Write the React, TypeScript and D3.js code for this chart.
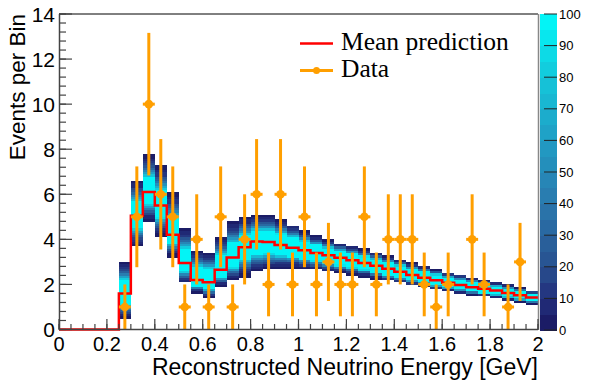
import React from "react";
import * as d3 from "d3";

// bin lower edges [GeV], 0.05 wide
const binStart = d3.range(40).map((i) => i * 0.05);
const binWidth = 0.05;

const meanPrediction = [
  0, 0, 0, 0, 0, 1.6, 5.05, 6.1, 5.5, 4.2,
  2.95, 2.2, 2.1, 2.65, 3.2, 3.65, 3.9, 3.88, 3.75, 3.63,
  3.52, 3.4, 3.29, 3.18, 3.07, 2.95, 2.83, 2.7, 2.56, 2.42,
  2.3, 2.18, 2.07, 1.97, 1.88, 1.81, 1.73, 1.62, 1.52, 1.42,
];

const dataCounts = [
  0, 0, 0, 0, 0, 1, 5, 10, 6, 5,
  1, 4, 1, 5, 1, 4, 6, 2, 6, 2,
  5, 2, 3, 2, 2, 5, 2, 4, 4, 4,
  2, 1, 2, 0, 4, 2, 0, 1, 3, 0,
];

// outer extent of the prediction band per bin
const bandLow = [
  null, null, null, null, null, 0.5, 3.7, 4.85, 4.15, 3.3,
  2.1, 1.65, 1.45, 1.95, 2.2, 2.4, 2.6, 2.7, 2.75, 2.8,
  2.75, 2.7, 2.62, 2.55, 2.48, 2.4, 2.3, 2.2, 2.1, 2.0,
  1.92, 1.82, 1.73, 1.65, 1.57, 1.52, 1.45, 1.35, 1.27, 1.2,
];
const bandHigh = [
  null, null, null, null, null, 3.0, 6.6, 7.75, 7.25, 6.05,
  4.45, 3.45, 3.4, 4.1, 4.75, 4.95, 5.05, 5.05, 4.85, 4.6,
  4.35, 4.12, 3.95, 3.8, 3.66, 3.52, 3.38, 3.22, 3.07, 2.92,
  2.78, 2.64, 2.5, 2.38, 2.26, 2.16, 2.07, 1.95, 1.82, 1.68,
];

const colorStops = [0, 10, 20, 40, 60, 80, 100];
const colorRange = ["#18165f", "#232f7c", "#28508f", "#2a78ad", "#219dc4", "#14c6da", "#00fafa"];
const colorTicks = [0, 10, 20, 30, 40, 50, 60, 70, 80, 90, 100];

const legendItems = ["Mean prediction", "Data"];

const W = 598;
const H = 382;
const sans = "'Liberation Sans', Arial, Helvetica, sans-serif";
const serif = "'Liberation Serif', 'Times New Roman', serif";
const orange = "#ff9f00";

export default function App() {
  const xScale = d3.scaleLinear().domain([0, 2]).range([59, 538]);
  const yScale = d3.scaleLinear().domain([0, 14]).range([329.5, 14]);
  const zScale = d3.scaleLinear().domain([0, 100]).range([330, 14]);
  const interp = d3.scaleLinear<string>().domain(colorStops).range(colorRange);
  const palette = (v: number) => {
    const level = Math.min(19, Math.floor(v / 5));
    return interp((level + 0.5) * 5);
  };

  // band cells (2D histogram style, 0.1 tall cells)
  const cells: { x0: number; x1: number; y0: number; y1: number; c: string }[] = [];
  binStart.forEach((b, i) => {
    const lo = bandLow[i];
    const hi = bandHigh[i];
    if (lo == null || hi == null) return;
    const m = meanPrediction[i];
    const sl = (m - lo) / 2.9;
    const su = (hi - m) / 2.9;
    const peak = 320 / Math.sqrt(hi - lo);
    for (let k = Math.floor(lo / 0.1); k < Math.ceil(hi / 0.1); k++) {
      const y0 = k * 0.1;
      const yc = y0 + 0.05;
      const z = yc < m ? (m - yc) / sl : (yc - m) / su;
      const v = Math.min(100, peak * Math.exp(-0.5 * z * z));
      cells.push({ x0: b, x1: b + binWidth, y0, y1: y0 + 0.1, c: palette(v) });
    }
  });

  // step line for mean prediction
  const stepPts: [number, number][] = [];
  binStart.forEach((b, i) => {
    stepPts.push([b, meanPrediction[i]]);
    stepPts.push([b + binWidth, meanPrediction[i]]);
  });
  const stepLine = d3
    .line<[number, number]>()
    .x((d) => xScale(d[0]))
    .y((d) => yScale(d[1]));

  const xMajor = xScale.ticks(10);
  const xMinor = d3.range(0, 2.0001, 0.05);
  const yMajor = yScale.ticks(7);
  const yMinor = d3.range(0, 14.001, 0.4);
  const axisColor = "#444";

  const zLevels = d3.range(20).map((l) => l * 5);

  return (
    <svg width={W} height={H} style={{ position: "absolute", left: 0, top: 0, background: "#fff" }}>
      {/* band */}
      <g shapeRendering="crispEdges">
        {cells.map((c, i) => (
          <rect
            key={i}
            x={xScale(c.x0)}
            y={yScale(c.y1)}
            width={xScale(c.x1) - xScale(c.x0)}
            height={yScale(c.y0) - yScale(c.y1) + 0.3}
            fill={c.c}
          />
        ))}
      </g>

      {/* mean prediction */}
      <path d={stepLine(stepPts) ?? ""} fill="none" stroke="#ff0000" strokeWidth={2.5} />

      {/* data */}
      <g>
        {binStart.map((b, i) => {
          const n = dataCounts[i];
          if (n <= 0) return null;
          const cx = xScale(b + binWidth / 2);
          const e = Math.sqrt(n);
          return (
            <g key={i}>
              <line x1={cx} x2={cx} y1={yScale(n + e)} y2={yScale(Math.max(0, n - e))} stroke={orange} strokeWidth={3} />
              <line x1={xScale(b)} x2={xScale(b + binWidth)} y1={yScale(n)} y2={yScale(n)} stroke={orange} strokeWidth={3} />
              <circle cx={cx} cy={yScale(n)} r={4.3} fill={orange} />
            </g>
          );
        })}
      </g>

      {/* frame */}
      <line x1={59} x2={538} y1={14} y2={14} stroke="#000" strokeWidth={1} />
      <line x1={538.5} x2={538.5} y1={14} y2={330} stroke="#888" strokeWidth={1.5} />

      {/* x axis */}
      <g stroke={axisColor}>
        <line x1={59} x2={538} y1={329.5} y2={329.5} strokeWidth={1.5} />
        {xMinor.map((t) => (
          <line key={"xm" + t} x1={xScale(t)} x2={xScale(t)} y1={329.5} y2={324} strokeWidth={1.2} />
        ))}
        {xMajor.map((t) => (
          <line key={"xM" + t} x1={xScale(t)} x2={xScale(t)} y1={329.5} y2={319} strokeWidth={1.2} />
        ))}
      </g>
      {xMajor.map((t) => (
        <text key={"xl" + t} x={xScale(t)} y={351} textAnchor="middle" fontFamily={sans} fontSize={20} fill="#000">
          {d3.format("~g")(t)}
        </text>
      ))}
      <text x={538} y={375} textAnchor="end" fontFamily={sans} fontSize={23} fill="#000">
        Reconstructed Neutrino Energy [GeV]
      </text>

      {/* y axis */}
      <g stroke={axisColor}>
        <line x1={59.5} x2={59.5} y1={14} y2={330} strokeWidth={1.5} />
        {yMinor.map((t) => (
          <line key={"ym" + t} x1={59} x2={66} y1={yScale(t)} y2={yScale(t)} strokeWidth={1.2} />
        ))}
        {yMajor.map((t) => (
          <line key={"yM" + t} x1={59} x2={72} y1={yScale(t)} y2={yScale(t)} strokeWidth={1.2} />
        ))}
      </g>
      {yMajor.map((t) => (
        <text key={"yl" + t} x={55} y={yScale(t) + 7.5} textAnchor="end" fontFamily={sans} fontSize={21} fill="#000">
          {t}
        </text>
      ))}
      <text
        transform="translate(25,14) rotate(-90)"
        textAnchor="end"
        fontFamily={sans}
        fontSize={22.5}
        fill="#000"
      >
        Events per Bin
      </text>

      {/* legend */}
      <line x1={300} x2={333} y1={43.5} y2={43.5} stroke="#ff0000" strokeWidth={2.5} />
      <text x={341} y={49.5} fontFamily={serif} fontSize={25.5} fill="#000">
        {legendItems[0]}
      </text>
      <line x1={300} x2={333} y1={70.5} y2={70.5} stroke={orange} strokeWidth={3} />
      <circle cx={316.5} cy={70.5} r={3.5} fill={orange} />
      <text x={341} y={76.5} fontFamily={serif} fontSize={25.5} fill="#000">
        {legendItems[1]}
      </text>

      {/* colour bar */}
      <g shapeRendering="crispEdges">
        {zLevels.map((l) => (
          <rect
            key={"z" + l}
            x={540}
            y={zScale(l + 5)}
            width={17}
            height={zScale(l) - zScale(l + 5) + 0.5}
            fill={palette(l + 2.5)}
          />
        ))}
      </g>
      <g stroke="#222">
        {colorTicks.map((t) => (
          <line key={"zt" + t} x1={544} x2={557} y1={zScale(t)} y2={zScale(t)} strokeWidth={1} />
        ))}
      </g>
      {colorTicks.map((t) => (
        <text key={"zl" + t} x={559} y={zScale(t) + 4.5} fontFamily={sans} fontSize={13} fill="#000">
          {t}
        </text>
      ))}
    </svg>
  );
}
